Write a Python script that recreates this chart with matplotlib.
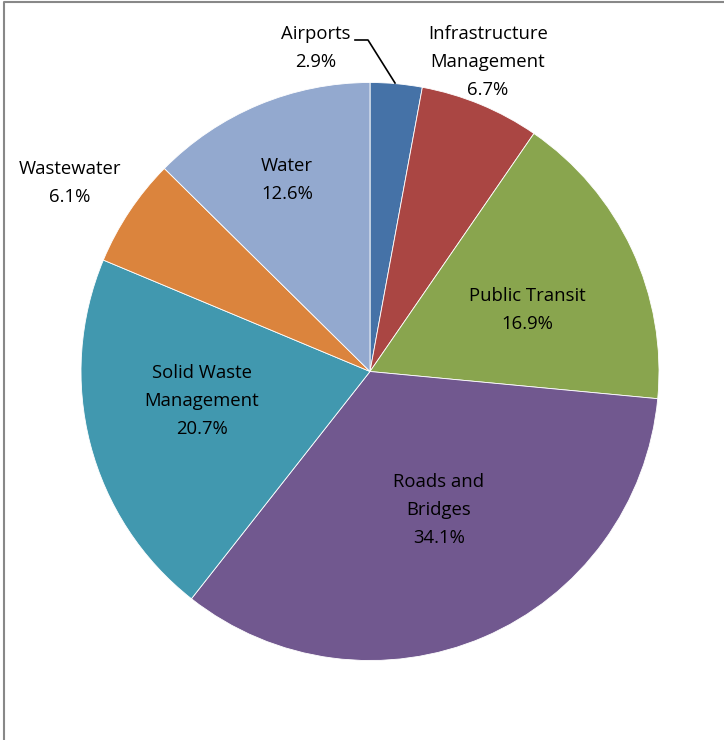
import matplotlib
matplotlib.use("Agg")
import matplotlib.pyplot as plt
from matplotlib.lines import Line2D

categories = ["Airports", "Infrastructure\nManagement", "Public Transit", "Roads and\nBridges",
              "Solid Waste\nManagement", "Wastewater", "Water"]
values = [2.9, 6.7, 16.9, 34.1, 20.7, 6.1, 12.6]
colors = ["#4572A7", "#AA4643", "#89A54E", "#71588F", "#4198AF", "#DB843D", "#93A9CF"]

# label centre positions in pixel coords (x, y from top)
label_pos = [(316, 48), (488, 62), (527, 310), (439, 510), (202, 401), (70, 183), (287, 180)]

W, H = 724, 740
fig = plt.figure(figsize=(W / 100, H / 100), dpi=100)
ax = fig.add_axes([0, 0, 1, 1])

cx, cy, r = 370, H - 371.5, 289
ax.pie(values, colors=colors, startangle=90, counterclock=False, center=(cx, cy), radius=r,
       wedgeprops=dict(edgecolor="white", linewidth=0.6), frame=True)
ax.set_xlim(0, W)
ax.set_ylim(0, H)
ax.set_aspect("equal")
ax.axis("off")

for cat, v, (x, y) in zip(categories, values, label_pos):
    ax.text(x, H - y, f"{cat}\n{v:.1f}%", ha="center", va="center", fontsize=13.3,
            family="Open Sans", color="#000000", linespacing=1.7)

# leader line for Airports
ax.add_line(Line2D([355, 368, 395], [H - 40, H - 40, H - 83], color="black", lw=1.2))

# frame (top and left border)
ax.add_line(Line2D([4, 4, W], [0, H - 1.5, H - 1.5], color="#888888", lw=1.5))

fig.savefig("out.png", dpi=100)
